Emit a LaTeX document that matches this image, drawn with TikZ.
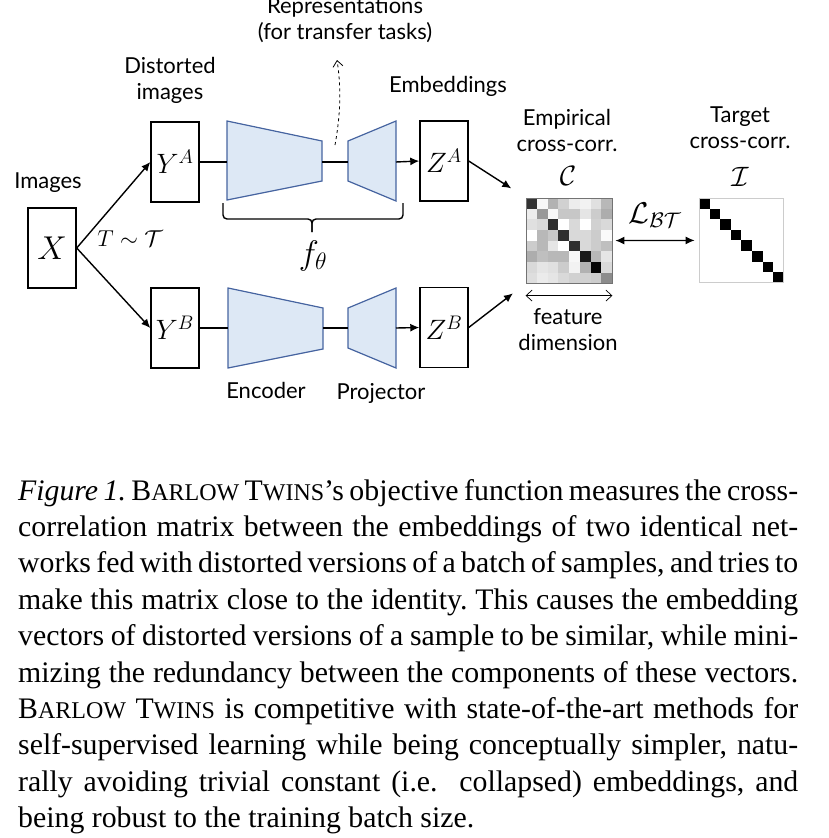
\RequirePackage{fix-cm}
\documentclass[tikz,border=0pt]{standalone}
\usepackage{fontspec}
\setmainfont{Liberation Serif}
\newfontfamily\diafont{Lato}
\usetikzlibrary{arrows.meta,calc}
\definecolor{encfill}{RGB}{221,232,245}
\definecolor{encdraw}{RGB}{70,100,160}
\newcommand\capsz{\fontsize{29.8}{36}\selectfont}
\newcommand\fsc[1]{{\fontsize{24}{24}\selectfont #1}}
\newcommand\capln[1]{\makebox[780pt][s]{#1}}
\frenchspacing
\begin{document}
\begin{tikzpicture}[x=1pt,y=-1pt,
  box/.style={draw, line width=1.4pt, minimum width=48pt, minimum height=80pt, inner sep=0pt},
  lbl/.style={align=center, inner sep=0pt, font=\diafont\fontsize{22}{26}\selectfont},
  mth/.style={inner sep=0pt},
  enc/.style={fill=encfill, draw=encdraw, line width=1.2pt},
  conn/.style={line width=1.4pt},
  arr/.style={line width=1.4pt, -{Latex[length=9pt,width=8pt]}},
  capline/.style={anchor=base west, inner sep=0pt, font=\capsz}]
\useasboundingbox (0,0) rectangle (828,838);

% boxes
\node[box] (X)  at (52,248)  {\fontsize{33}{33}\selectfont$X$};
\node[box] (YA) at (175,162) {\fontsize{28}{28}\selectfont$Y^A$};
\node[box] (YB) at (175,328) {\fontsize{28}{28}\selectfont$Y^B$};
\node[box] (ZA) at (444,161) {\fontsize{28}{28}\selectfont$Z^A$};
\node[box] (ZB) at (444,327.5) {\fontsize{28}{28}\selectfont$Z^B$};

% encoders / projectors
\draw[enc] (227,121) -- (322,141) -- (322,181) -- (227,200) -- cycle;
\draw[enc] (348,141) -- (396,121) -- (396,201) -- (348,181) -- cycle;
\draw[enc] (228,288) -- (323,308) -- (323,349) -- (228,368) -- cycle;
\draw[enc] (348,308) -- (396,288) -- (396,368) -- (348,348) -- cycle;
\coordinate (eAl) at (227,162);
\coordinate (eAr) at (322,162);
\coordinate (pAl) at (348,162);
\coordinate (pAr) at (396,162);
\coordinate (eBl) at (228,328);
\coordinate (eBr) at (323,328);
\coordinate (pBl) at (348,328);
\coordinate (pBr) at (396,328);

% connectors
\draw[arr] (X.east) -- (YA.west);
\draw[arr] (X.east) -- (YB.west);
\draw[conn] (YA.east) -- (eAl);
\draw[conn] (eAr) -- (pAl);
\draw[arr] (pAr) -- (ZA.west);
\draw[conn] (YB.east) -- (eBl);
\draw[conn] (eBr) -- (pBl);
\draw[arr] (pBr) -- (ZB.west);

% brace
\draw[line width=1.4pt, rounded corners=4pt] (223,203) -- (223,219) -- (312,219) -- (312,232);
\draw[line width=1.4pt, rounded corners=4pt] (403,203) -- (403,219) -- (312,219) -- (312,232);

% texts
\node[lbl, anchor=base] (images) at (48,188) {Images};
\node[lbl] (distorted) at (170,80.3) {Distorted\\images};
\node[lbl] (rep) at (345,20.3) {Representations\\(for transfer tasks)};
\node[lbl, anchor=base] (emb) at (448,92) {Embeddings};
\node[lbl, anchor=base] (encl) at (266,398) {Encoder};
\node[lbl, anchor=base] (projl) at (381,399) {Projector};
\node[lbl] (empl) at (567,130) {Empirical\\cross-corr.};
\node[lbl] (targl) at (740,128) {Target\\cross-corr.};
\node[lbl] (featl) at (568,330) {feature\\dimension};

\node[mth, anchor=base] (T) at (130,246) {\fontsize{23}{23}\selectfont$T\sim\mathcal{T}$};
\node[mth, anchor=base] (f) at (313,264) {\fontsize{34}{34}\selectfont$f_\theta$};
\node[mth, anchor=base] (Cl) at (568,185) {\fontsize{28}{28}\selectfont$\mathcal{C}$};
\node[mth, anchor=base] (Il) at (740,186) {\fontsize{28}{28}\selectfont$\mathcal{I}$};
\node[mth, anchor=base] (Ll) at (655,223) {\fontsize{30}{30}\selectfont$\mathcal{L}_{\mathcal{BT}}$};

% dashed representation arrow
\coordinate (rs) at (335,145);
\coordinate (rt) at (337,60);
\draw[dashed, line width=0.8pt, -{Straight Barb[length=6pt,width=10pt]}] (rs) .. controls (341,112) and (341,86) .. (rt);

% empirical cross-correlation matrix
\foreach \row [count=\i from 0] in {
 {80,3,30,18,7,5,12,28},
 {7,40,3,22,22,10,20,32},
 {12,15,82,0,15,0,18,15},
 {0,28,22,82,15,15,20,2},
 {20,28,10,0,82,15,20,25},
 {32,25,28,28,3,90,28,10},
 {15,10,12,20,5,30,98,15},
 {13,8,10,15,18,18,20,45}} {
  \foreach \d [count=\j from 0] in \row {
    \fill[black!\d] (526+\j*10.75,198+\i*10.65) rectangle ++(10.75,10.65);
  }
}
\node[draw=black!55, line width=0.8pt, minimum width=86pt, minimum height=85.2pt, inner sep=0pt] (C) at (569,240.6) {};

% target matrix
\foreach \i in {0,...,7} {
  \fill[black] (699+\i*10.6,198+\i*10.6) rectangle ++(10.6,10.6);
}
\node[draw=black!20, line width=0.8pt, minimum width=84.8pt, minimum height=84.8pt, inner sep=0pt] (I) at (741.4,240.4) {};

% matrix connectors
\draw[arr, shorten >=17pt] (ZA.east) -- (C.north west);
\draw[arr, shorten >=16pt] (ZB.east) -- (C.south west);
\draw[line width=1.2pt, {Latex[length=9pt,width=8pt]}-{Latex[length=9pt,width=8pt]}, shorten <=3pt, shorten >=4pt] (C.east) -- (I.west);
\draw[line width=0.7pt, {Straight Barb[length=6pt,width=11pt]}-{Straight Barb[length=6pt,width=11pt]}] ($(C.south west)+(0,12)$) -- ($(C.south east)+(0,12)$);

% caption
\node[capline] (c1) at (18,500) {\capln{\textit{Figure 1.} B\fsc{ARLOW} T\fsc{WINS}'s objective function measures the cross-}};
\node[capline] (c2) at (18,536.4) {\capln{correlation matrix between the embeddings of two identical net-}};
\node[capline] (c3) at (18,572.8) {\capln{works fed with distorted versions of a batch of samples, and tries to}};
\node[capline] (c4) at (18,609.2) {\capln{make this matrix close to the identity. This causes the embedding}};
\node[capline] (c5) at (18,645.6) {\capln{vectors of distorted versions of a sample to be similar, while mini-}};
\node[capline] (c6) at (18,682) {\capln{mizing the redundancy between the components of these vectors.}};
\node[capline] (c7) at (18,718.4) {\capln{B\fsc{ARLOW} T\fsc{WINS} is competitive with state-of-the-art methods for}};
\node[capline] (c8) at (18,754.8) {\capln{self-supervised learning while being conceptually simpler, natu-}};
\node[capline] (c9) at (18,791.2) {\capln{rally avoiding trivial constant (i.e.\ \ collapsed) embeddings, and}};
\node[capline] (c10) at (18,827.6) {being robust to the training batch size.};
\end{tikzpicture}
\end{document}
